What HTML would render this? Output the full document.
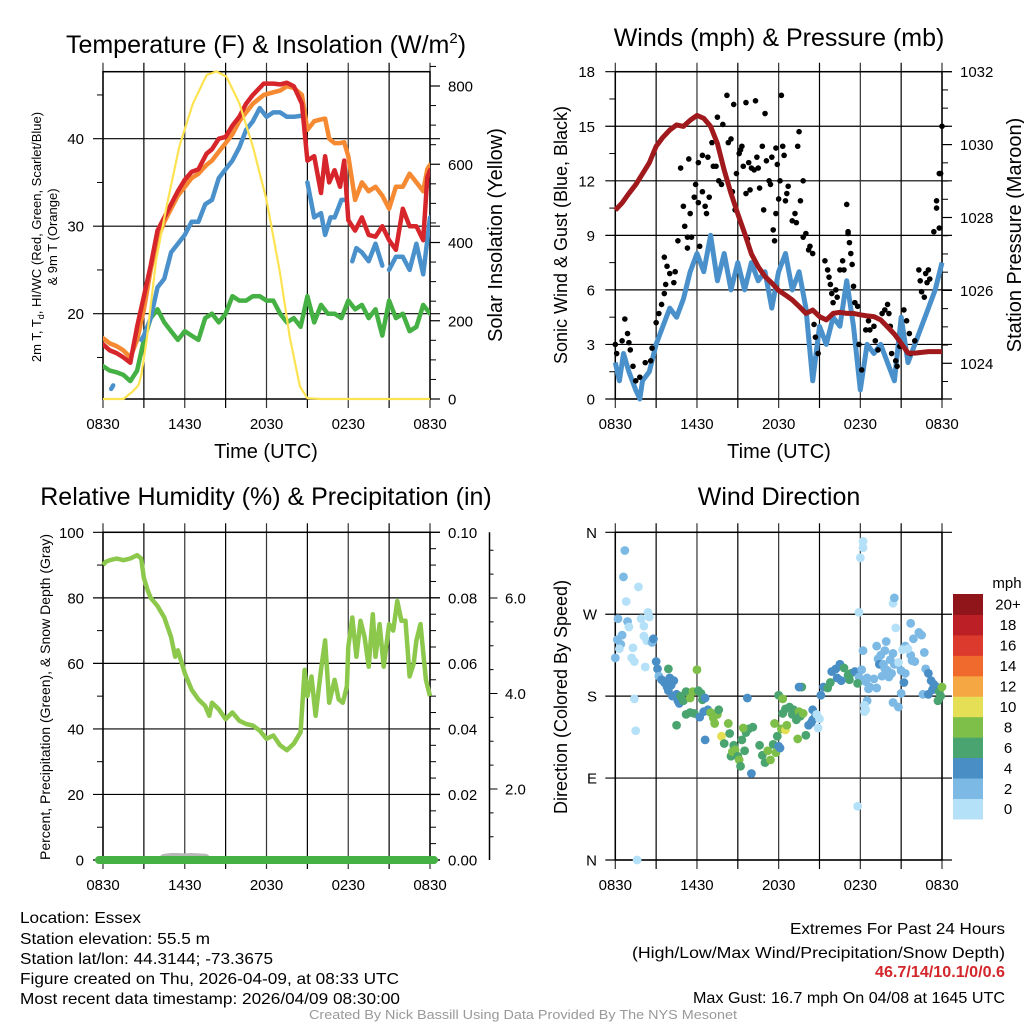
<!DOCTYPE html>
<html><head><meta charset="utf-8"><style>
html,body{margin:0;padding:0;background:#fff;}
svg{display:block;font-family:"Liberation Sans",sans-serif;}
</style></head><body>
<svg id="fig" xmlns="http://www.w3.org/2000/svg" width="1024" height="1024" viewBox="0 0 1024 1024">
<g id="p1"></g>
<g id="p2"></g>
<g id="p3"></g>
<g id="p4"></g>
<g font-size="16" fill="#000">
<text x="20" y="923" textLength="121" lengthAdjust="spacingAndGlyphs">Location: Essex</text>
<text x="20" y="944" textLength="190" lengthAdjust="spacingAndGlyphs">Station elevation: 55.5 m</text>
<text x="20" y="964" textLength="253" lengthAdjust="spacingAndGlyphs">Station lat/lon: 44.3144; -73.3675</text>
<text x="20" y="984" textLength="379" lengthAdjust="spacingAndGlyphs">Figure created on Thu, 2026-04-09, at 08:33 UTC</text>
<text x="20" y="1004" textLength="380" lengthAdjust="spacingAndGlyphs">Most recent data timestamp: 2026/04/09 08:30:00</text>
</g>
<g font-size="16" fill="#000">
<text x="790" y="934" textLength="215" lengthAdjust="spacingAndGlyphs">Extremes For Past 24 Hours</text>
<text x="632" y="958" textLength="373" lengthAdjust="spacingAndGlyphs">(High/Low/Max Wind/Precipitation/Snow Depth)</text>
<text x="875" y="977" textLength="130" lengthAdjust="spacingAndGlyphs" font-weight="bold" fill="#d3262b">46.7/14/10.1/0/0.6</text>
<text x="693" y="1003" textLength="312" lengthAdjust="spacingAndGlyphs">Max Gust: 16.7 mph On 04/08 at 1645 UTC</text>
</g>
<text x="309" y="1019" font-size="13" fill="#999" textLength="428" lengthAdjust="spacingAndGlyphs">Created By Nick Bassill Using Data Provided By The NYS Mesonet</text>
</svg>
<script>
// ---------- DATA ----------
const xTickLabels = ["0830","1430","2030","0230","0830"];
const tempRedT = [0,0.5,1,1.5,2,2.5,3,3.5,4,4.5,5,5.5,6,6.5,7,7.6,8,8.5,9,9.5,10,10.5,11,11.8,12.5,13,13.5,14,14.6,15,15.5,16,16.3,16.6,17,17.4,17.7,18,18.5,19,19.5,20,20.5,21,21.5,22,22.5,23,23.5,23.8,24];
const tempRedV = [16.5,15.8,15.5,15,14.4,18.5,22,25.5,29.5,31,32.5,34,35.3,36.2,36.5,38.3,38.8,40,40.2,41.5,42.5,44,45,46.3,46.3,46.2,46.4,46,44,37.5,38,33.8,38,35,36.4,34.5,37.5,30.7,29.5,31,29,28.8,30,28.4,27.3,32,30,30,28.4,35.6,36.4];
const tempOrgV = [17.2,16.6,16.3,15.8,15,17,20.5,25,28.5,30.5,32,33.5,34.5,35.5,36,37,37.5,38.5,39.5,40.5,42,43,44,45,45.3,45.5,46,45.8,45,41,42,42.2,42.3,40,39.5,39.5,39.6,38,33,35,34,34.5,33.5,32,34.5,34.5,36,35,34,36.5,37];
const tempBlueT = [0.6,0.75,null,2.8,3,3.5,4,4.5,5,5.5,6,6.5,7,7.5,8,8.5,9,9.5,10,10.5,11,11.5,12,12.5,13,13.5,14,14.5,null,15,15.5,16,16.3,16.7,17,17.5,17.8,null,18.3,18.6,19,19.5,20,20.5,null,21,21.5,22,22.5,23,23.5,24];
const tempBlueV = [11.4,11.8,null,17,17.5,19.5,23,24,27,28,29,30.5,30.5,32.5,33,35.5,36.5,37.5,39,41,42,43.5,42.5,43,43,42.5,42.5,42.6,null,35,31,31.5,29,31,31,33,33,null,26,27.5,27,26,28,25.5,null,25,26.5,26.5,25,28,24.5,31];
const tempGrnT = [0,0.5,1,1.5,2,2.5,3,3.5,4,4.5,5,5.5,6,6.5,7,7.5,8,8.5,9,9.5,10,10.5,11,11.5,12,12.5,13,13.5,14,14.5,15,15.5,16,16.5,17,17.5,18,18.5,19,19.5,20,20.5,21,21.5,22,22.5,23,23.5,24];
const tempGrnV = [14,13.5,13.3,13,12.3,13.5,17,19.5,20.5,19,18,17,18,17.5,17,19.5,20,19,20,22,21.5,21.5,22,22,21.5,21.5,20,19,19.5,18.5,22,19,21,20,20,19.5,21.5,20.5,21,19.5,20.5,17.5,21.5,19.5,20,18,18.5,21,20];
const solarT = [0,1.5,2.2,2.6,2.8,3.2,3.9,4.65,5.6,6.6,7.6,8.33,9.06,10,11,12,13,13.7,14.45,15,16,24];
const solarV = [0,0,20,35,60,150,355,490,645,755,828,837,824,756,645,509,321,159,32,2,0,0];
const presT = [0,0.5,1,1.5,2,2.5,3,3.5,4,4.5,5,5.5,6,6.5,7,7.5,8,8.5,9,9.5,10,10.5,11,11.5,12,12.5,13,13.5,14,14.5,15,15.5,16,16.5,17,17.5,18,18.5,19,19.5,20,20.5,21,21.5,22,22.5,23,23.5,24];
const presV = [1028.2,1028.4,1028.66,1028.9,1029.2,1029.5,1029.95,1030.2,1030.4,1030.54,1030.5,1030.67,1030.8,1030.72,1030.5,1030.03,1029.3,1028.66,1028.1,1027.57,1027.0,1026.65,1026.38,1026.2,1026.0,1025.87,1025.74,1025.56,1025.37,1025.46,1025.28,1025.19,1025.37,1025.4,1025.37,1025.37,1025.33,1025.3,1025.28,1025.19,1025.0,1024.8,1024.55,1024.28,1024.28,1024.3,1024.32,1024.32,1024.32];
const windT = [0,0.3,0.6,1,1.5,1.8,2,2.5,3,3.5,4,4.5,5,5.5,6,6.5,7,7.5,8,8.5,9,9.5,10,10.5,11,11.5,12,12.5,13,13.5,14,14.5,15,15.5,16,16.5,17,17.5,18,18.5,19,19.5,20,20.5,21,21.5,22,22.5,23,23.5,24];
const windV = [2,1,2.5,1.5,0.5,0,1,1.5,3,4,5,4.5,5.5,7,8,7,9,6.5,8,6,7.5,6,7.5,6.5,7,5,7,8,6,7,5,1,4,3,4.5,4,6.5,4,0.5,3,2.5,3,2,1,4.5,2,3,4,5,6,7.5];
const gustT = [0,0.1,0.5,0.7,0.9,1,1.1,1.3,1.5,1.8,2.2,2.6,2.7,3,3.2,3.4,3.6,3.7,3.6,3.8,4,4.3,4.4,4.6,4.8,5,5.1,5.3,5.3,5.4,5.5,5.6,5.8,5.9,6.1,6.1,6.2,6.4,6.4,6.6,6.7,6.8,6.9,7.1,7.2,7.4,7.5,7.6,7.8,7.9,8.2,8.3,8.5,8.6,8.7,8.8,8.9,9.1,9.2,9.3,9.4,9.6,9.6,9.7,9.8,9.9,10,10.2,10.3,10.4,10.5,10.6,10.8,10.9,11,11.1,11.3,11.4,11.5,11.6,11.7,11.8,11.8,11.9,12,12.1,12.2,12.3,12.4,12.5,12.6,12.7,13,13.2,13.3,13.4,13.5,13.6,13.8,13.8,14,14.2,14.3,14.5,14.6,14.7,14.9,15.4,15.6,15.7,15.8,15.9,16,16.2,16.3,16.5,16.7,16.8,17,17.1,17.1,17.2,17.3,17.4,17.5,17.6,17.8,17.9,18.1,18.4,18.6,18.7,19,19.1,19.3,19.6,19.8,20,20.1,20.2,20.3,20.6,20.7,20.9,21.2,21.4,21.6,21.7,22,22.3,22.4,22.5,22.7,22.8,22.9,23,23.1,23.4,23.6,23.6,23.8,23.9,23.8,24];
const gustV = [3,2.5,3.2,4.4,3.6,3.1,2.7,1.8,1.0,1.2,2.0,2.1,2.8,4.2,4.7,5.2,5.8,6.3,7.8,7.3,6.9,6.4,7.0,8.7,12.7,10.6,9.5,8.9,8.3,13.2,10.2,8.9,11.1,11.8,13.0,10.8,8.4,11.4,13.4,10.6,10.2,13.3,11.1,14.1,12.8,12.8,15.5,12.0,11.8,15.1,16.7,14.1,14.3,11.4,16.2,10.4,12.4,13.5,13.7,13.9,12.8,16.3,11.3,8.8,13.0,11.5,12.7,12.6,16.4,13.3,12.7,11.6,13.9,10.4,15.7,13.1,12.0,11.8,13.3,9.3,8.7,10.2,13.8,12.9,11.0,12.0,16.7,13.9,13.4,10.9,11.3,11.7,9.8,10.2,9.7,13.9,14.7,10.9,12.0,8.9,9.1,8.2,8.4,8.0,4.1,3.4,2.5,7.6,7.1,6.7,6.3,5.8,5.3,6.0,5.6,7.1,7.6,7.1,10.7,9.1,9.2,8.6,8.0,7.4,6.2,5.3,5.1,3.0,1.6,3.8,4.3,3.8,4.0,3.2,2.7,4.7,4.9,5.2,4.7,4.0,2.5,2.1,1.8,2.9,4.9,4.3,3.6,2.5,3.2,7.1,6.5,5.9,5.6,6.9,6.4,7.1,6.6,9.2,10.5,10.9,12.4,12.4,9.4,15.0];
const rhT = [0,0.2,0.5,1,1.5,2,2.5,2.8,3,3.3,3.5,4,4.5,5,5.3,5.5,6,6.5,7,7.5,7.8,8,8.5,9,9.5,10,10.5,11,11.5,12,12.5,13,13.5,14,14.5,14.8,15,15.3,15.6,16,16.3,16.6,17,17.3,17.6,17.9,18,18.3,18.6,18.9,19.2,19.5,19.8,20,20.3,20.6,21,21.3,21.6,21.9,22.2,22.5,22.8,23,23.3,23.7,24];
const rhV = [90,91,91.5,92,91.5,92,93,92,86,82,80,77.5,74,68,62,64,57,52,49,47,44,48,46,43,45,42.5,41.5,41,39.5,37,38,35,33.5,35.5,39,58,50,56,44,58,67,48,55,49,48,53,65,74,62,73,68,59,75,62,72,59,72,70,79,73,73,56,60,67,72,55,50];
const snowT = [4.5,5,5.5,6,6.5,7,7.5];
const snowV = [0.3,0.5,0.5,0.4,0.5,0.4,0.3];
const dirT = [0.7,0.6,0.8,1.7,0.2,0.15,0.9,1.0,0.5,0.4,0.0,0.3,1.3,1.2,1.4,1.9,2.1,2.4,2.5,2.1,2.3,2.7,2.8,2.2,1.4,1.5,1.6,3.0,3.1,3.2,3.4,3.6,3.8,3.9,4.1,4.3,4.5,4.6,4.7,4.2,4.0,3.9,4.8,5.0,5.2,5.5,5.7,6.0,6.1,6.3,6.4,6.6,6.8,4.5,5.2,5.5,5.8,6.2,6.5,6.6,7.0,7.2,7.3,7.5,7.6,7.8,8.0,8.3,8.4,8.5,8.6,8.7,8.8,9.0,9.1,9.2,9.3,9.5,9.6,9.8,10.1,9.7,9.4,10.0,10.6,10.8,11.0,11.2,11.4,11.6,11.8,12.0,12.1,11.7,11.9,12.2,12.5,12.6,12.3,12.0,12.3,12.5,12.8,13.0,13.1,13.3,13.5,13.6,13.8,13.4,13.7,13.5,14.0,14.2,14.4,14.5,14.7,14.5,14.9,14.8,15.1,15.0,15.3,15.6,15.8,15.9,16.2,16.5,16.8,17.1,17.3,17.6,17.9,18.1,18.2,17.8,17.2,16.3,16.6,18.4,18.6,18.7,18.5,19.0,19.2,18.3,18.4,18.2,18.2,18.0,17.9,17.8,19.3,19.4,19.7,19.8,20.0,20.1,20.3,19.6,20.5,20.7,21.0,21.3,21.2,21.0,20.4,20.8,21.7,21.8,22.0,22.3,22.5,22.7,22.8,23.0,23.2,23.4,23.6,22.6,23.0,23.3,23.8,23.9,24.0,23.7,20.4,20.5,20.6,21.3,21.1,20.8,21.5,21.9,21.7,19.9,19.2,19.5,19.8,20.2,20.4,18.5,18.3];
const dirV = [340,311,284,300,265,242,262,256,247,237,222,232,233,222,218,265,257,272,267,246,241,239,243,212,177,142,0,218,210,202,198,195,190,186,192,197,182,175,172,180,200,210,180,175,185,178,185,209,186,183,176,178,165,148,160,162,161,157,163,132,162,156,150,160,165,136,128,150,139,114,119,126,121,114,110,103,132,120,140,144,146,178,145,95,126,115,107,120,110,127,118,125,123,150,136,144,143,148,161,181,177,166,168,160,165,154,163,158,161,133,190,190,137,148,151,154,158,165,145,160,181,155,190,189,195,207,210,215,211,203,205,207,201,209,230,194,198,200,197,196,188,190,200,199,189,163,165,350,343,332,272,59,221,215,215,210,208,201,205,202,215,215,208,205,195,183,173,168,225,219,218,250,247,228,210,205,197,193,190,182,182,187,185,180,190,175,282,288,255,235,231,217,232,243,260,240,235,225,230,220,227,175,170];
const dirS = [2.5,2.5,1,0.5,3,3,3,1,2.5,2.5,3.5,1,1,1,1,1,1,1,1,1,1,3,4,1,0.5,0.5,0.5,4,4,3,4,4,4,4,4,4,4,4,4,4,4,6,7,6,6,8,8,8,6,6,6,4,5,6,6,6,6,4,4,4,8,8,8,8,6,10,6,8,6,6,8,7,8,6,8,6,6,6,6,6,6,4,8,4,6,6,6,8,8,6,8,4,4,8,6,8,10,8,7,6,8,6,6,6,7,6,8,6,8,8,6,4,6,4,5,4,4,4,1,1,4,1,4,6,6,4,4,4,6,6,6,5,3,3,3,6,6,4,4,2,2,2,2,2,2,1,1,0.5,0.5,0.5,1,0.5,3,4,3,2,3,3,2,2,3,3,3,3,4,2,2,2,2,2,2,2,2,2,2,4,4,4,4,2,4,4,6,6,8,6,1,3,1,2,1,1,1,2,3,3,3,2,2,2,2,2,1];
const speedLabels = ["0","2","4","6","8","10","12","14","16","18","20+"];
const speedColors = ["#b5e1f8","#7cb9e4","#4a8ec6","#4aa46f","#7dbf48","#e5df55","#f5a744","#ef6a2c","#dc3a2c","#bc1f26","#8f151a"];

// ---------- HELPERS ----------
const NS="http://www.w3.org/2000/svg";
function mk(parent,tag,attrs){const e=document.createElementNS(NS,tag);for(const k in attrs)e.setAttribute(k,attrs[k]);parent.appendChild(e);return e;}
function txt(parent,x,y,s,size,anchor,extra){const e=mk(parent,"text",Object.assign({x:x,y:y,"font-size":size,"text-anchor":anchor||"middle"},extra||{}));e.textContent=s;return e;}
function pathFrom(ts,vs,xf,yf){let d="",pen=false;for(let i=0;i<ts.length;i++){if(ts[i]===null||vs[i]===null){pen=false;continue;}d+=(pen?"L":"M")+xf(ts[i]).toFixed(1)+" "+yf(vs[i]).toFixed(1);pen=true;}return d;}

function frame(g,L,R,T,B,hLines){
  hLines.forEach(y=>{const l=mk(g,"line",{x1:L-10,x2:R+10,y1:y,y2:y,stroke:"#000","stroke-width":1.2});
    
    });
  for(let i=0;i<=8;i++){const x=L+i*(R-L)/8;const l=mk(g,"line",{x1:x,x2:x,y1:T-9,y2:B+9,stroke:i%2?"#000":"#333","stroke-width":1.2});
    
    }
  const b=mk(g,"rect",{x:L,y:T,width:R-L,height:B-T,fill:"none",stroke:"#000","stroke-width":1.5});
  
  
  xTickLabels.forEach((s,i)=>{const t=txt(g,L+i*(R-L)/4,0,s,15);t.setAttribute("y",B+30);
    
    });
}
function minor(g,x,ys,dir){ys.forEach(y=>{const l=mk(g,"line",{x1:x,x2:x+dir*6,y1:y,y2:y,stroke:"#000","stroke-width":1});
  
  });}

// ---------- PANEL 1 ----------
(function(){
const g=document.getElementById("p1");
const L=103,R=430,T=71.7,B=399;
const xS=t=>L+t/24*(R-L);
const yT=v=>313.7-(v-20)*8.75;
const yS=v=>399-v*(313/800);
frame(g,L,R,T,B,[yT(20),yT(30),yT(40)]);
minor(g,L,[yT(15),yT(25),yT(35),yT(45)],-1);
const mr=[];for(let v=50;v<=850;v+=50)if(v%200)mr.push(yS(v));minor(g,R,mr,1);
[0,200,400,600,800].forEach(v=>{mk(g,"line",{x1:R,x2:R+10,y1:yS(v),y2:yS(v),stroke:"#000","stroke-width":1.2});const t=txt(g,448,yS(v)+5.5,String(v),15,"start");
  
  });
[20,30,40].forEach(v=>{const t=txt(g,84,yT(v)+5.5,String(v),15,"end");
  
  });
const cl=mk(g,"clipPath",{id:"c1"});mk(cl,"rect",{x:L,y:T,width:R-L,height:B-T+2});
const series=[[tempGrnT,tempGrnV,"#45b043","dewpoint-line"],[tempBlueT,tempBlueV,"#4a91cc","windchill-line"],[tempRedT,tempOrgV,"#f58a33","temp-9m-line"],[tempRedT,tempRedV,"#d7262b","temp-2m-line"]];
series.forEach(s=>{const p=mk(g,"path",{d:pathFrom(s[0],s[1],xS,yT),fill:"none",stroke:s[2],"stroke-width":4.5,"stroke-linejoin":"round","stroke-linecap":"round","clip-path":"url(#c1)"});
  
  });
const sp=mk(g,"path",{d:pathFrom(solarT,solarV,xS,yS),fill:"none",stroke:"#fde352","stroke-width":2.2});


const ti=txt(g,266,53,"Temperature (F) & Insolation (W/m",25);
const ts=mk(ti,"tspan",{"font-size":15,dy:-10});ts.textContent="2";const ts2=mk(ti,"tspan",{dy:10});ts2.textContent=")";
const xt=txt(g,266,458,"Time (UTC)",20);
const yt=mk(g,"text",{transform:"translate(41,237) rotate(-90)","font-size":13,"text-anchor":"middle"});

yt.innerHTML='2m T, T<tspan font-size="9" dy="3">d</tspan><tspan dy="-3">, HI/WC (Red, Green, Scarlet/Blue)</tspan>';
const yt2=mk(g,"text",{transform:"translate(57,237) rotate(-90)","font-size":13,"text-anchor":"middle"});yt2.textContent="& 9m T (Orange)";

const yr=mk(g,"text",{transform:"translate(502,235) rotate(-90)","font-size":20,"text-anchor":"middle"});yr.textContent="Solar Insolation (Yellow)";

})();

// ---------- PANEL 2 ----------
(function(){
const g=document.getElementById("p2");
const L=615.3,R=942,T=71.7,B=399;
const xS=t=>L+t/24*(R-L);
const yW=v=>B-v*(B-T)/18;
const yP=p=>T+(1032-p)*36.45;
const hl=[];for(let v=0;v<=18;v+=3)hl.push(yW(v));
frame(g,L,R,T,B,hl);
const ml=[];for(let v=1.5;v<18;v+=3)ml.push(yW(v));minor(g,L,ml,-1);
const mr=[];for(let p=1023.5;p<1032;p+=0.5)if(p%2)mr.push(yP(p));minor(g,R,mr,1);
[0,3,6,9,12,15,18].forEach(v=>{const t=txt(g,595,yW(v)+5.5,String(v),15,"end");
  
  });
[1024,1026,1028,1030,1032].forEach(p=>{mk(g,"line",{x1:R,x2:R+10,y1:yP(p),y2:yP(p),stroke:"#000","stroke-width":1.2});const t=txt(g,960,yP(p)+5.5,String(p),15,"start");
  
  });
const wp=mk(g,"path",{d:pathFrom(windT,windV,xS,yW),fill:"none",stroke:"#4a91cc","stroke-width":5,"stroke-linejoin":"round"});

gustT.forEach((t,i)=>{const c=mk(g,"circle",{cx:xS(t),cy:yW(gustV[i]),r:2.8,fill:"#000"});
  
  });
const pp=mk(g,"path",{d:pathFrom(presT,presV,xS,yP),fill:"none",stroke:"#a01a1d","stroke-width":5,"stroke-linejoin":"round"});

const ti=txt(g,779,46,"Winds (mph) & Pressure (mb)",25);
const xt=txt(g,779,458,"Time (UTC)",20);
const yt=mk(g,"text",{transform:"translate(567,235) rotate(-90)","font-size":18,"text-anchor":"middle"});yt.textContent="Sonic Wind & Gust (Blue, Black)";

const yr=mk(g,"text",{transform:"translate(1021,235) rotate(-90)","font-size":20,"text-anchor":"middle"});yr.textContent="Station Pressure (Maroon)";

})();

// ---------- PANEL 3 ----------
(function(){
const g=document.getElementById("p3");
const L=103,R=430,T=532.3,B=860;
const xS=t=>L+t/24*(R-L);
const yR=v=>B-v*(B-T)/100;
const yIn=v=>B-v*(B-T)/0.1;
const ySn=v=>884.5-v*47.75;
frame(g,L,R,T,B,[0,20,40,60,80,100].map(yR));
minor(g,L,[10,30,50,70,90].map(yR),-1);
const mr=[];for(let i=1;i<20;i++)if(i%4)mr.push(yIn(i*0.005));minor(g,R,mr,1);
[0,20,40,60,80,100].forEach(v=>{const t=txt(g,84,yR(v)+5.5,String(v),15,"end");
  
  });
["0.00","0.02","0.04","0.06","0.08","0.10"].forEach((s,i)=>{mk(g,"line",{x1:R,x2:R+10,y1:yIn(i*0.02),y2:yIn(i*0.02),stroke:"#000","stroke-width":1.2});const t=txt(g,448,yIn(i*0.02)+5.5,s,15,"start");
  
  });
const ax=mk(g,"line",{x1:489.5,x2:489.5,y1:T,y2:B,stroke:"#000","stroke-width":1.5});

for(let v=0.5;v<=7;v+=0.5){const y=ySn(v);if(y<T||y>B)continue;mk(g,"line",{x1:489.5,x2:489.5+(v%2?4:8),y1:y,y2:y,stroke:"#000","stroke-width":1});}
["2.0","4.0","6.0"].forEach((s,i)=>{const t=txt(g,505,ySn((i+1)*2)+5.5,s,15,"start");
  
  });
const sn=mk(g,"path",{d:pathFrom(snowT,snowV,xS,v=>B-v*4),fill:"none",stroke:"#b8b8b8","stroke-width":10,"stroke-linecap":"round","stroke-linejoin":"round"});

const pr=mk(g,"line",{x1:L-4,x2:R+4,y1:B,y2:B,stroke:"#45b043","stroke-width":8,"stroke-linecap":"round"});

const rp=mk(g,"path",{d:pathFrom(rhT,rhV,xS,yR),fill:"none",stroke:"#8cc84b","stroke-width":4.5,"stroke-linejoin":"round"});

const ti=txt(g,266,505,"Relative Humidity (%) & Precipitation (in)",25);
const yt=mk(g,"text",{transform:"translate(50,697) rotate(-90)","font-size":14,"text-anchor":"middle"});yt.textContent="Percent, Precipitation (Green), & Snow Depth (Gray)";

})();

// ---------- PANEL 4 ----------
(function(){
const g=document.getElementById("p4");
const L=615.3,R=942,T=532.3,B=860;
const xS=t=>L+t/24*(R-L);
const yD=d=>B-d*(B-T)/360;
frame(g,L,R,T,B,[0,90,180,270,360].map(yD));
["N","E","S","W","N"].forEach((s,i)=>{const t=txt(g,597,yD(i*90)+5.5,s,15,"end");
  
  });
dirT.forEach((t,i)=>{const k=Math.min(10,Math.floor(dirS[i]/2));const c=mk(g,"circle",{cx:xS(t),cy:yD(dirV[i]),r:4.4,fill:speedColors[k]});
  
  });
const ti=txt(g,779,505,"Wind Direction",25);
const yt=mk(g,"text",{transform:"translate(567,697) rotate(-90)","font-size":18,"text-anchor":"middle"});yt.textContent="Direction (Colored By Speed)";

const lg=mk(g,"g",{});
const top=594,h=20.45;
speedLabels.forEach((s,i)=>{const j=10-i;const y=top+j*h;
  const r=mk(lg,"rect",{x:953,y:y,width:30,height:h+0.5,fill:speedColors[i]});
  
  
  const t=txt(lg,1008,y+h/2+5.5,s,15);
  
  });
const mu=txt(lg,1007,588,"mph",15);
})();
</script>
</body></html>
